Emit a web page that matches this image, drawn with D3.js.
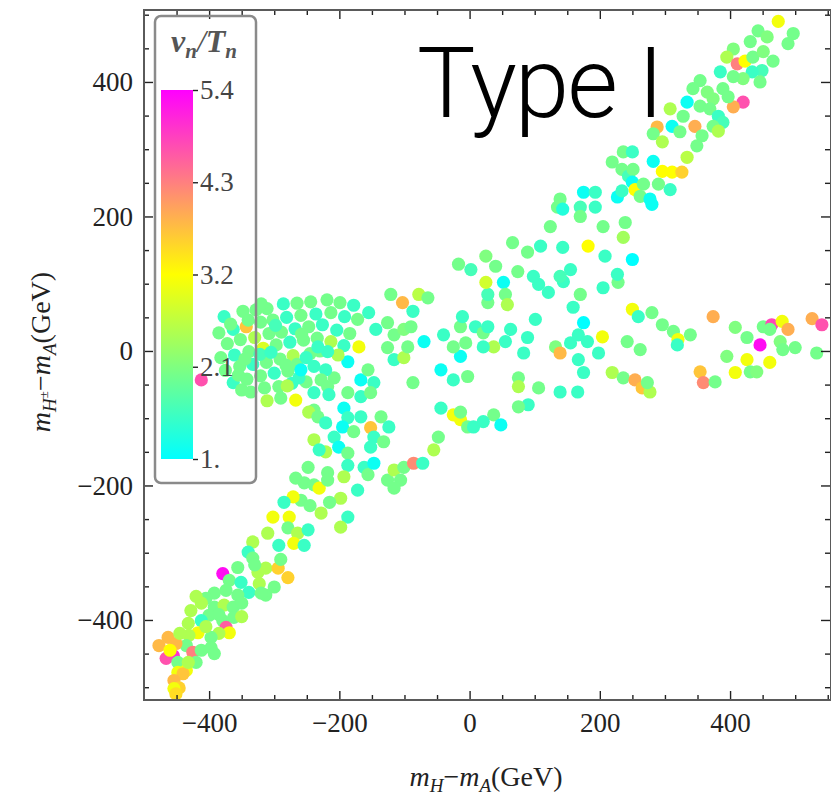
<!DOCTYPE html>
<html>
<head>
<meta charset="utf-8">
<script src="https://cdn.jsdelivr.net/npm/d3@7"></script>
<style>
  body { margin: 0; background: #fff; }
  .axis text { font-family: "Liberation Serif", "Times New Roman", serif; font-size: 27px; fill: #222; }
  .axis line { stroke: #222; stroke-width: 1.4; }
  .axis path { display: none; }
  .lbl { font-family: "Liberation Serif", "Times New Roman", serif; fill: #222; }
</style>
</head>
<body>
<script>
// [m_H - m_A, m_H± - m_A, v_n/T_n], grouped by region

// dense blob left of centre
var cluster = [
  [-377, 51, 1.5], [-348, 59, 2.0], [-328, 61, 2.0], [-311, 63, 2.0], [-286, 70, 1.5],
  [-265, 71, 2.0], [-244, 73, 2.0], [-219, 76, 2.0], [-199, 72, 2.0], [-178, 68, 1.5],
  [-363, 32, 1.5], [-343, 36, 3.7], [-321, 43, 2.0], [-302, 46, 2.0], [-281, 50, 1.5],
  [-259, 53, 2.0], [-236, 55, 1.5], [-213, 57, 2.0], [-192, 51, 1.5], [-172, 47, 2.0],
  [-372, 11, 2.0], [-352, 17, 2.0], [-330, 20, 2.5], [-308, 26, 2.0], [-289, 28, 2.0],
  [-268, 33, 1.5], [-247, 36, 2.0], [-226, 39, 1.5], [-204, 31, 1.5], [-184, 26, 2.0],
  [-382, -10, 2.0], [-361, -6, 1.5], [-339, -1, 2.0], [-317, 4, 2.9], [-297, 9, 2.0],
  [-276, 13, 1.5], [-255, 16, 2.0], [-234, 19, 2.0], [-213, 14, 2.5], [-193, 8, 1.5],
  [-375, -29, 2.0], [-353, -23, 2.0], [-333, -20, 1.5], [-312, -17, 2.0], [-291, -12, 2.0],
  [-271, -7, 2.5], [-363, -47, 1.5], [-342, -42, 2.0], [-321, -37, 2.0], [-300, -33, 1.5],
  [-279, -30, 2.0], [-336, -61, 2.0], [-315, -55, 2.0], [-293, -53, 2.0], [-273, -48, 1.5],
  [-251, -46, 2.0], [-290, -70, 2.0], [-311, -74, 2.5], [-412, -43, 4.7], [-385, 27, 2.0],
  [-340, 46, 2.0], [-298, 38, 1.6], [-258, 25, 2.0], [-322, -5, 1.6], [-282, -21, 2.0],
  [-355, -36, 2.0], [-245, -4, 2.0], [-262, -40, 1.5], [-367, 40, 2.0], [-345, -12, 2.0],
  [-305, -2, 1.5], [-265, -20, 2.0], [-230, 0, 2.0], [-320, 70, 2.0], [-350, -58, 2.0],
  [-280, -52, 2.5]
];

// scattered points around the crossing
var centre = [
  [-121, 84, 2.0], [-103, 72, 3.8], [-78, 84, 2.6], [-64, 79, 2.0], [-87, 59, 1.5],
  [-155, 57, 1.5], [-144, 32, 1.5], [-126, 42, 2.0], [-116, 24, 2.0], [-101, 32, 2.1],
  [-90, 36, 2.0], [-70, 14, 1.1], [-126, 5, 2.0], [-116, -13, 1.5], [-101, -10, 2.5],
  [-95, 6, 2.0], [-87, -47, 2.0], [-170, 6, 3.1], [-187, -16, 1.1], [-167, -43, 1.1],
  [-147, -47, 1.5], [-156, -28, 2.0], [-187, -62, 2.0], [-167, -68, 1.5], [-152, -62, 2.0],
  [-208, -40, 2.0], [-202, -6, 2.5], [-218, -1, 1.5], [-233, 6, 1.5], [-251, -10, 1.5],
  [-259, -28, 1.1], [-239, -23, 1.5], [-221, -28, 1.5], [-228, -43, 2.0], [-218, -53, 2.0],
  [-239, -62, 1.5], [-216, -65, 1.5], [-239, -88, 2.0], [-267, -73, 3.1], [-247, -91, 2.5],
  [-233, -98, 2.0], [-221, -107, 1.5], [-193, -85, 1.1], [-187, -99, 1.5], [-195, -113, 1.1],
  [-167, -98, 1.5], [-152, -114, 3.7], [-136, -98, 2.0], [-124, -113, 1.5], [-147, -128, 1.5],
  [-132, -135, 2.0], [-152, -143, 1.5], [-178, -120, 2.0], [-208, -128, 1.5], [-201, -143, 1.1],
  [-221, -150, 2.5], [-187, -152, 2.0], [-187, -170, 1.5], [-193, -187, 2.5], [-218, -181, 2.0],
  [-239, -132, 2.5], [-231, -147, 1.5], [-162, -173, 1.5], [-156, -184, 2.0], [-172, -207, 1.5],
  [-147, -167, 1.1], [-126, -192, 2.0], [-116, -177, 2.5], [-106, -192, 2.0], [-116, -204, 2.0],
  [-101, -173, 2.0], [-86, -167, 4.2], [-72, -167, 1.5], [-55, -147, 2.5], [-48, -128, 2.0],
  [-44, -85, 1.5], [-25, -95, 3.1], [-14, -102, 3.1], [-14, -91, 2.0], [-3, -113, 2.0],
  [6, -113, 1.5], [-25, -43, 1.5], [-44, -28, 1.1], [-3, -38, 2.0], [-14, -8, 1.1],
  [-6, 12, 2.0], [-25, 6, 2.0], [-40, 24, 1.5], [-14, 36, 2.0], [-11, 51, 1.5],
  [9, 36, 1.5], [21, 27, 2.0], [28, 72, 2.0]
];

// lower-left diagonal branch
var lowerBand = [
  [-259, -222, 2.0], [-271, -217, 3.1], [-254, -196, 2.0], [-239, -199, 2.0], [-231, -204, 3.1],
  [-218, -192, 2.0], [-198, -219, 2.5], [-248, -173, 2.0], [-267, -189, 2.0], [-285, -225, 1.5],
  [-302, -247, 3.1], [-277, -247, 3.1], [-228, -241, 2.5], [-187, -247, 1.5], [-198, -262, 2.5],
  [-279, -263, 2.0], [-264, -271, 2.5], [-310, -271, 2.5], [-248, -266, 1.5], [-293, -289, 1.5],
  [-270, -286, 3.1], [-254, -289, 1.5], [-333, -284, 2.5], [-340, -299, 1.5], [-333, -308, 2.0],
  [-356, -322, 2.0], [-379, -331, 5.3], [-369, -341, 2.0], [-374, -356, 2.0], [-351, -344, 1.5],
  [-339, -359, 1.5], [-356, -363, 2.0], [-325, -329, 2.5], [-313, -323, 2.5], [-294, -323, 3.6],
  [-279, -337, 3.6], [-300, -351, 2.0], [-313, -363, 2.0], [-323, -346, 2.5], [-392, -360, 2.0],
  [-405, -368, 2.0], [-412, -375, 2.5], [-428, -386, 2.5], [-392, -381, 2.0], [-377, -378, 2.5],
  [-363, -381, 2.0], [-400, -393, 2.0], [-412, -401, 1.5], [-379, -401, 2.0], [-362, -396, 2.0],
  [-374, -411, 4.6], [-369, -419, 3.1], [-385, -420, 2.5], [-397, -426, 2.0], [-417, -419, 3.1],
  [-432, -405, 2.5], [-431, -423, 2.5], [-435, -438, 2.0], [-463, -426, 3.8], [-477, -438, 3.8],
  [-451, -435, 3.8], [-455, -453, 5.0], [-466, -457, 4.7], [-448, -463, 2.0], [-425, -448, 4.3],
  [-412, -445, 2.0], [-397, -441, 2.0], [-392, -450, 2.0], [-420, -463, 2.0], [-435, -475, 3.1],
  [-448, -478, 3.1], [-440, -480, 3.7], [-454, -490, 3.8], [-446, -501, 3.6], [-454, -502, 3.1],
  [-451, -510, 3.5], [-432, -463, 2.5], [-420, -365, 2.5], [-385, -392, 2.0], [-350, -375, 2.0],
  [-330, -318, 2.0], [-445, -420, 2.5], [-460, -445, 3.2], [-405, -410, 2.5], [-350, -395, 2.5],
  [-320, -360, 2.0], [-290, -310, 2.0], [-245, -230, 2.0], [-215, -225, 2.0]
];

// horizontal branch near m_H± = m_A, right side
var flatBand = [
  [52, 102, 1.1], [28, 84, 1.6], [55, 84, 2.0], [58, 69, 2.5], [106, 99, 1.5],
  [121, 87, 1.5], [144, 103, 1.5], [205, 94, 1.5], [228, 102, 2.0], [170, 84, 2.0],
  [159, 65, 1.5], [175, 42, 1.0], [28, 36, 1.5], [101, 47, 1.5], [63, 32, 1.5],
  [55, 14, 1.5], [37, 6, 2.5], [21, 6, 1.5], [89, 20, 1.5], [83, -3, 1.5],
  [132, 6, 2.1], [139, -3, 3.8], [155, 12, 1.5], [167, 24, 1.5], [181, 14, 1.5],
  [204, 21, 3.1], [198, -3, 1.5], [167, -13, 1.5], [175, -32, 1.5], [75, -40, 2.0],
  [75, -53, 2.5], [106, -55, 2.0], [139, -61, 1.5], [166, -61, 1.5], [90, -80, 1.5],
  [75, -83, 2.0], [37, -95, 2.0], [48, -110, 1.1], [21, -105, 1.5], [250, 62, 3.1],
  [259, 51, 1.5], [280, 57, 2.0], [296, 39, 2.0], [313, 29, 2.0], [320, 17, 3.1],
  [319, 9, 1.5], [339, 24, 2.0], [242, 14, 2.0], [262, 2, 2.0], [219, -32, 2.5],
  [236, -40, 2.0], [254, -43, 3.9], [265, -55, 3.7], [277, -61, 2.5], [273, -47, 2.0],
  [374, 51, 3.9], [408, 35, 2.1], [426, 20, 2.0], [446, 9, 5.3], [451, 36, 2.0],
  [464, 39, 4.8], [480, 44, 3.1], [489, 32, 3.9], [461, 32, 2.0], [477, 14, 2.1],
  [481, 2, 2.0], [500, 5, 2.0], [395, -8, 2.1], [426, -13, 3.1], [461, -17, 3.1],
  [408, -32, 3.1], [431, -31, 2.0], [441, -31, 2.1], [354, -31, 3.7], [359, -47, 4.2],
  [377, -46, 2.0], [526, 48, 3.9], [541, 39, 4.7], [533, -3, 2.0]
];

// upper-right diagonal branch
var upperBand = [
  [474, 490, 3.1], [497, 472, 2.0], [489, 457, 2.0], [443, 476, 2.0], [457, 467, 2.1],
  [431, 460, 2.0], [405, 449, 2.1], [395, 437, 2.5], [411, 427, 4.3], [423, 431, 3.2],
  [435, 437, 2.0], [451, 445, 2.1], [466, 431, 2.0], [449, 417, 1.6], [434, 415, 1.5],
  [446, 400, 2.0], [420, 405, 2.1], [405, 408, 2.0], [385, 415, 1.5], [389, 390, 2.0],
  [420, 370, 4.7], [405, 363, 3.9], [397, 378, 2.0], [374, 375, 2.1], [354, 402, 2.0],
  [343, 390, 2.0], [365, 385, 2.1], [334, 370, 1.1], [354, 364, 2.0], [369, 360, 2.0],
  [382, 349, 1.5], [389, 340, 1.6], [374, 334, 2.0], [346, 334, 3.9], [328, 349, 2.0],
  [311, 334, 1.1], [308, 360, 2.5], [288, 333, 3.8], [282, 323, 2.0], [296, 311, 2.5],
  [323, 326, 2.0], [357, 320, 2.0], [382, 327, 2.5], [349, 305, 2.0], [334, 288, 2.6],
  [282, 282, 1.1], [296, 267, 3.2], [311, 266, 3.2], [326, 266, 3.6], [236, 296, 2.0],
  [250, 296, 1.5], [219, 281, 2.0], [234, 270, 2.0], [244, 260, 1.6], [251, 270, 2.0],
  [250, 251, 1.1], [254, 240, 3.2], [267, 248, 2.0], [290, 248, 2.0], [308, 240, 1.5],
  [262, 230, 2.0], [277, 226, 1.1], [280, 218, 1.1], [227, 229, 1.1], [234, 238, 1.5],
  [175, 236, 1.1], [193, 236, 1.5], [193, 214, 1.5], [170, 214, 1.6], [170, 200, 2.0],
  [139, 226, 2.0], [135, 214, 2.0], [143, 211, 1.3], [124, 185, 2.0], [205, 185, 2.0],
  [239, 191, 2.0], [236, 169, 2.4], [182, 156, 3.2], [143, 154, 1.5], [109, 156, 1.5],
  [89, 147, 2.0], [66, 161, 2.0], [208, 141, 1.5], [250, 136, 1.0], [227, 114, 1.5],
  [155, 121, 1.5], [139, 111, 1.6], [98, 111, 1.5], [74, 118, 2.0], [25, 102, 2.8],
  [40, 126, 2.0], [25, 141, 2.1], [-17, 129, 2.0], [2, 121, 1.6]
];

var xMajor = [-400, -200, 0, 200, 400];
var yMajor = [-400, -200, 0, 200, 400];
var barTicks = [1, 2.1, 3.2, 4.3, 5.4];

// svg area
var svgWidth = 831;
var svgHeight = 800;

var svg = d3.select("body")
  .append("svg")
  .attr("width", svgWidth)
  .attr("height", svgHeight);

// plot box: left 144, right 831 (cut at the window edge), top 10, bottom 700
var x = d3.scaleLinear().domain([-500, 555]).range([144, 831]);
var y = d3.scaleLinear().domain([-519, 507]).range([700, 10]);
var color = d3.scaleLinear()
  .domain([1, 3.2, 5.4])
  .range(["#00ffff", "#ffff00", "#ff00ff"]);

svg.append("clipPath").attr("id", "plotclip")
  .append("rect")
  .attr("x", 144).attr("y", 10)
  .attr("width", 687).attr("height", 690);

// points
var allPoints = cluster.concat(centre, lowerBand, flatBand, upperBand);
svg.append("g")
  .attr("clip-path", "url(#plotclip)")
  .selectAll("circle")
  .data(allPoints)
  .enter()
  .append("circle")
  .attr("cx", d => x(d[0]))
  .attr("cy", d => y(d[1]))
  .attr("r", 6.6)
  .attr("fill", d => color(d[2]));

// minor tick positions every 50
var xMinor = d3.range(-450, 551, 50).filter(v => v % 200 !== 0);
var yMinor = d3.range(-500, 501, 50).filter(v => v % 200 !== 0);

function tickLayer(axis, tx, ty) {
  svg.append("g")
    .classed("axis", true)
    .attr("transform", `translate(${tx}, ${ty})`)
    .call(axis);
}

// bottom
tickLayer(d3.axisBottom(x).tickValues(xMajor).tickSizeInner(-9).tickSizeOuter(0).tickPadding(13), 0, 700);
tickLayer(d3.axisBottom(x).tickValues(xMinor).tickSizeInner(-5).tickSizeOuter(0).tickFormat(""), 0, 700);
// top
tickLayer(d3.axisTop(x).tickValues(xMajor).tickSizeInner(-9).tickSizeOuter(0).tickFormat(""), 0, 10);
tickLayer(d3.axisTop(x).tickValues(xMinor).tickSizeInner(-5).tickSizeOuter(0).tickFormat(""), 0, 10);
// left
tickLayer(d3.axisLeft(y).tickValues(yMajor).tickSizeInner(-9).tickSizeOuter(0).tickPadding(11), 144, 0);
tickLayer(d3.axisLeft(y).tickValues(yMinor).tickSizeInner(-5).tickSizeOuter(0).tickFormat(""), 144, 0);
// right
tickLayer(d3.axisRight(y).tickValues(yMajor).tickSizeInner(-9).tickSizeOuter(0).tickFormat(""), 830, 0);
tickLayer(d3.axisRight(y).tickValues(yMinor).tickSizeInner(-5).tickSizeOuter(0).tickFormat(""), 830, 0);

// frame
svg.append("rect")
  .attr("x", 144).attr("y", 10)
  .attr("width", 687).attr("height", 690)
  .attr("fill", "none")
  .attr("stroke", "#5a5a5a")
  .attr("stroke-width", 2);

// axis titles
var xTitle = svg.append("text")
  .classed("lbl", true)
  .attr("x", 486).attr("y", 786)
  .attr("text-anchor", "middle")
  .attr("font-size", 28);
xTitle.append("tspan").attr("font-style", "italic").text("m");
xTitle.append("tspan").attr("font-style", "italic").attr("font-size", 19).attr("dy", 6).text("H");
xTitle.append("tspan").attr("dy", -6).text("\u2212");
xTitle.append("tspan").attr("font-style", "italic").text("m");
xTitle.append("tspan").attr("font-style", "italic").attr("font-size", 19).attr("dy", 6).text("A");
xTitle.append("tspan").attr("dy", -6).text("(GeV)");

var yTitle = svg.append("text")
  .classed("lbl", true)
  .attr("transform", "translate(50, 352) rotate(-90)")
  .attr("text-anchor", "middle")
  .attr("font-size", 28);
yTitle.append("tspan").attr("font-style", "italic").text("m");
yTitle.append("tspan").attr("font-style", "italic").attr("font-size", 19).attr("dy", 6).text("H");
yTitle.append("tspan").attr("font-size", 13).attr("dy", -8).text("\u00b1");
yTitle.append("tspan").attr("dy", 2).text("\u2212");
yTitle.append("tspan").attr("font-style", "italic").text("m");
yTitle.append("tspan").attr("font-style", "italic").attr("font-size", 19).attr("dy", 6).text("A");
yTitle.append("tspan").attr("dy", -6).text("(GeV)");

// legend: colour bar
var defs = svg.append("defs");
var grad = defs.append("linearGradient")
  .attr("id", "vgrad")
  .attr("x1", 0).attr("y1", 1).attr("x2", 0).attr("y2", 0);
color.domain().forEach(function (v) {
  grad.append("stop")
    .attr("offset", (v - 1) / 4.4)
    .attr("stop-color", color(v));
});

var barScale = d3.scaleLinear().domain([1, 5.4]).range([459, 90]);

svg.append("rect")
  .attr("x", 161).attr("y", barScale(5.4))
  .attr("width", 32).attr("height", barScale(1) - barScale(5.4))
  .attr("fill", "url(#vgrad)");

svg.append("g")
  .classed("axis", true)
  .attr("transform", "translate(193, 0)")
  .call(d3.axisRight(barScale)
    .tickValues(barTicks)
    .tickSizeInner(5).tickSizeOuter(0).tickPadding(2)
    .tickFormat(d => d === 1 ? "1." : d3.format(".1f")(d)))
  .selectAll("text")
  .attr("font-size", 29)
  .style("fill", "#444");

svg.append("rect")
  .attr("x", 155).attr("y", 16)
  .attr("width", 101).attr("height", 467)
  .attr("rx", 6)
  .attr("fill", "none")
  .attr("stroke", "#8a8a8a")
  .attr("stroke-width", 2.5);

var legTitle = svg.append("text")
  .classed("lbl", true)
  .attr("x", 204).attr("y", 52)
  .attr("text-anchor", "middle")
  .attr("font-size", 32)
  .attr("font-style", "italic")
  .attr("font-weight", "bold")
  .style("fill", "#555");
legTitle.append("tspan").text("v");
legTitle.append("tspan").attr("font-size", 21).attr("dy", 6).text("n");
legTitle.append("tspan").attr("dy", -6).attr("font-weight", "normal").text("/");
legTitle.append("tspan").text("T");
legTitle.append("tspan").attr("font-size", 21).attr("dy", 6).text("n");

// big label
svg.append("text")
  .attr("x", 417).attr("y", 117)
  .attr("font-family", "Roboto, 'Helvetica Neue', Lato, sans-serif")
  .attr("font-weight", 300)
  .attr("font-size", 98)
  .attr("textLength", 247)
  .attr("fill", "#000")
  .text("Type I");
</script>
</body>
</html>
